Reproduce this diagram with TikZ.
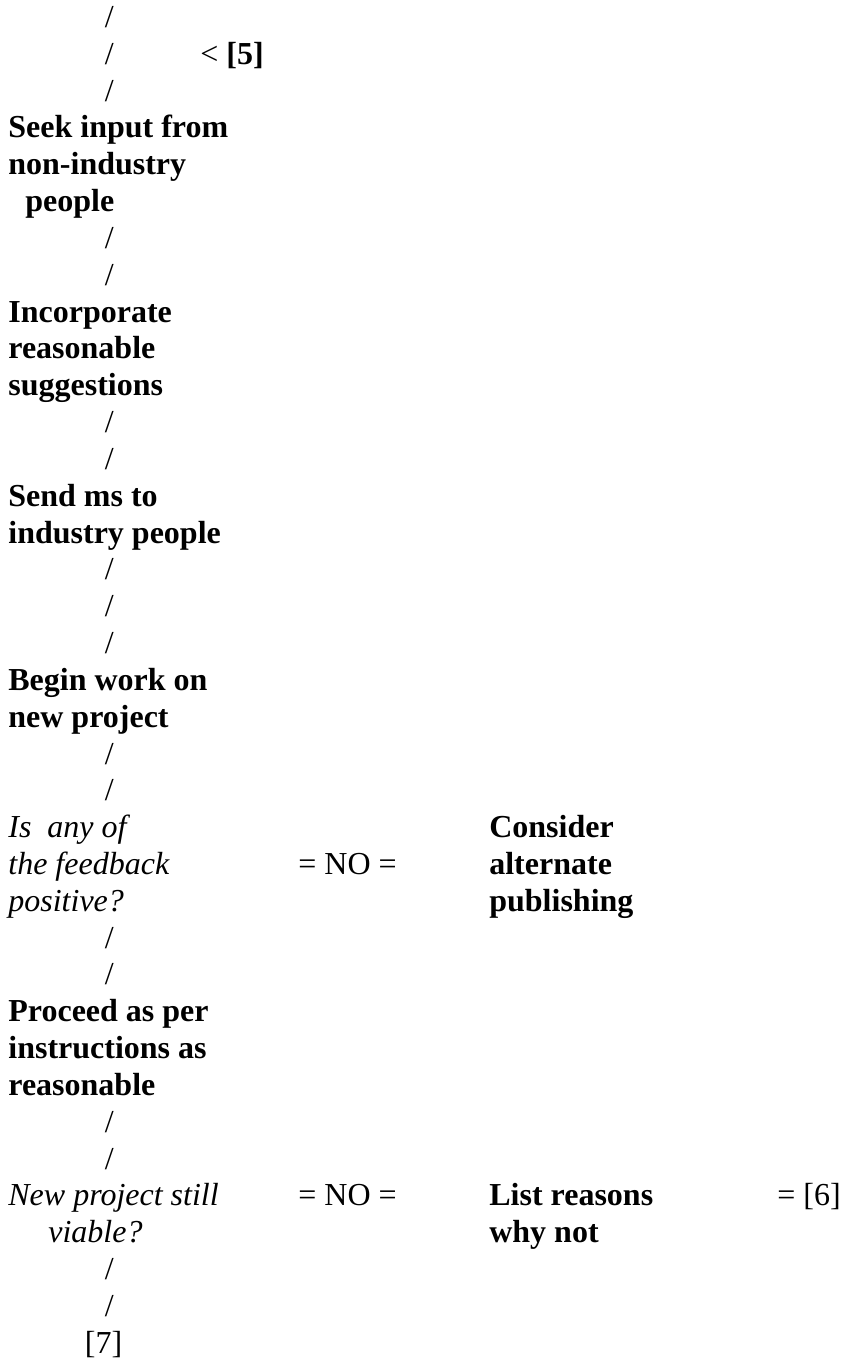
\documentclass[tikz,border=0pt]{standalone}
\usepackage{fontspec}
\setmainfont{Liberation Serif}
\begin{document}
\begin{tikzpicture}[x=0.5pt,y=-18.415pt,
 every node/.style={inner sep=0pt,anchor=base west,font=\fontsize{16}{18.415}\selectfont},
 act/.style={align=left,font=\fontsize{16}{18.415}\selectfont\bfseries},
 ask/.style={align=left,font=\fontsize{16}{18.415}\selectfont\itshape}]
 \fill[white](0,-0.7467) rectangle (841,36.1833);
 \foreach \i in {0,1,2,6,7,11,12,15,16,17,20,21,25,26,30,31,34,35}
  \node (bar\i) at (104.5,\i) {/};
 \node (to5) at (200,1) {< \textbf{[5]}};
 \node[act] (seek) at (8,5) {Seek input from\\non-industry\\\hspace{8.5pt}people};
 \node[act] (incorp) at (8,10) {Incorporate\\reasonable\\suggestions};
 \node[act] (send) at (8,14) {Send ms to\\industry people};
 \node[act] (begin) at (8,19) {Begin work on\\new project};
 \node[ask] (feedback) at (8,24) {Is\ \ any of\\the feedback\\positive?};
 \node (no1) at (298,23) {= NO =};
 \node[act] (alternate) at (489,24) {Consider\\alternate\\publishing};
 \node[act] (proceed) at (8,29) {Proceed as per\\instructions as\\reasonable};
 \node[ask] (viable) at (8,33) {New project still\\\hspace{20pt}viable?};
 \node (no2) at (298,32) {= NO =};
 \node[act] (reasons) at (489,33) {List reasons\\why not};
 \node (to6) at (777,32) {= [6]};
 \node (to7) at (84.5,36) {[7]};
\end{tikzpicture}
\end{document}
